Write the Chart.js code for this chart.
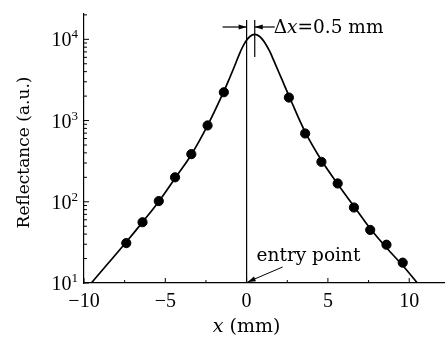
<!DOCTYPE html>
<html>
<head>
<meta charset="utf-8">
<script src="https://cdn.jsdelivr.net/npm/chart.js@4/dist/chart.umd.min.js"></script>
<style>
  html, body { margin: 0; padding: 0; background: #fff; }
  canvas { display: block; }
</style>
</head>
<body>
<canvas id="chart" width="445" height="339"></canvas>
<script>
// measured points (filled circles)
var pointX = [-7.4, -6.4, -5.4, -4.4, -3.4, -2.4, -1.4, 2.6, 3.6, 4.6, 5.6, 6.6, 7.6, 8.6, 9.6];
var pointY = [31, 56, 102, 200, 386, 870, 2230, 1920, 693, 310, 168, 85, 45, 29.6, 17.8];

// fitted curve
var curveX = [-9.55, -8.5, -7.4, -6.4, -5.4, -4.4, -3.4, -2.4, -1.4, -1.0, -0.7, -0.4, -0.1, 0.2, 0.5,
              0.8, 1.1, 1.4, 1.7, 2.0, 2.3, 2.6, 3.6, 4.6, 5.6, 6.6, 7.6, 8.6, 9.6, 10.5];
var curveY = [10, 17.6, 32, 56.2, 101, 195, 380, 871, 2290, 3510, 4900, 6920, 9120, 10840, 11480,
              10840, 9230, 7240, 5310, 3850, 2790, 2020, 724, 324, 166, 88, 46.8, 27.2, 16.4, 10];

// axes
var xMin = -10, xMax = 12.2;
var yMin = 10, yMax = 20500;
var xMajor = [-10, -5, 0, 5, 10];
var xLabels = ['\u221210', '\u22125', '0', '5', '10'];
var xMinor = [-7.5, -2.5, 2.5, 7.5];
var yMajor = [10, 100, 1000, 10000];
var yExp = ['1', '2', '3', '4'];

// annotations
var entryX = 0;
var peakX = 0.5;

var serif = "'DejaVu Serif', serif";
var numFont = "'Liberation Serif', serif";

function line(c, x1, y1, x2, y2) {
  c.beginPath();
  c.moveTo(x1, y1);
  c.lineTo(x2, y2);
  c.stroke();
}

function arrowHead(c, tx, ty, fx, fy, len, half) {
  var a = Math.atan2(ty - fy, tx - fx);
  c.beginPath();
  c.moveTo(tx, ty);
  c.lineTo(tx - len * Math.cos(a) + half * Math.sin(a), ty - len * Math.sin(a) - half * Math.cos(a));
  c.lineTo(tx - len * Math.cos(a) - half * Math.sin(a), ty - len * Math.sin(a) + half * Math.cos(a));
  c.closePath();
  c.fill();
}

var decor = {
  id: 'decor',
  afterDraw: function(chart) {
    var c = chart.ctx, xs = chart.scales.x, ys = chart.scales.y, area = chart.chartArea;
    c.save();
    c.strokeStyle = '#000';
    c.fillStyle = '#000';
    c.lineWidth = 1;

    // inward ticks
    xMajor.forEach(function(v) {
      var p = xs.getPixelForValue(v);
      line(c, p, area.bottom, p, area.bottom - 5);
    });
    xMinor.forEach(function(v) {
      var p = xs.getPixelForValue(v);
      line(c, p, area.bottom, p, area.bottom - 3);
    });
    yMajor.forEach(function(v) {
      var p = ys.getPixelForValue(v);
      line(c, area.left, p, area.left + 5, p);
      for (var m = 2; m <= 9; m++) {
        if (v * m > yMax) break;
        var q = ys.getPixelForValue(v * m);
        line(c, area.left, q, area.left + 3, q);
      }
    });

    // tick labels
    c.textBaseline = 'alphabetic';
    c.textAlign = 'center';
    c.font = '20px ' + numFont;
    xMajor.forEach(function(v, i) {
      c.fillText(xLabels[i], xs.getPixelForValue(v), area.bottom + 24);
    });
    yMajor.forEach(function(v, i) {
      var p = ys.getPixelForValue(v);
      c.font = '13px ' + numFont;
      c.textAlign = 'right';
      var ew = c.measureText(yExp[i]).width;
      c.fillText(yExp[i], area.left - 6, p - 1);
      c.font = '20px ' + numFont;
      c.fillText('10', area.left - 6 - ew, p + 7);
    });

    // y title
    c.save();
    c.translate(25, (area.top + area.bottom) / 2 + 4);
    c.rotate(-Math.PI / 2);
    c.textAlign = 'center';
    c.textBaseline = 'middle';
    c.font = '17px ' + serif;
    c.fillText('Reflectance (a.u.)', 0, 0);
    c.restore();

    // x title: italic x + (mm)
    c.textAlign = 'left';
    c.font = 'italic 19px ' + serif;
    var w1 = c.measureText('x').width;
    c.font = '19px ' + serif;
    var w2 = c.measureText(' (mm)').width;
    var sx = xs.getPixelForValue(0) - (w1 + w2) / 2;
    c.font = 'italic 19px ' + serif;
    c.fillText('x', sx, 332);
    c.font = '19px ' + serif;
    c.fillText(' (mm)', sx + w1, 332);

    // vertical lines at entry point and peak
    var x0 = xs.getPixelForValue(entryX);
    var xp = xs.getPixelForValue(peakX);
    c.lineWidth = 1.2;
    line(c, x0, area.top + 6, x0, area.bottom);
    line(c, xp, area.top + 6, xp, 57);

    // delta-x arrows
    var ay = 27;
    line(c, x0 - 24, ay, x0, ay);
    arrowHead(c, x0, ay, x0 - 24, ay, 8, 2.5);
    line(c, xp + 20, ay, xp, ay);
    arrowHead(c, xp, ay, xp + 20, ay, 8, 2.5);

    var tx = xp + 19;
    c.font = '18.5px ' + serif;
    c.fillText('\u0394', tx, 33);
    tx += c.measureText('\u0394').width;
    c.font = 'italic 18.5px ' + serif;
    c.fillText('x', tx, 33);
    tx += c.measureText('x').width;
    c.font = '18.5px ' + serif;
    c.fillText('=0.5 mm', tx, 33);

    // entry point label
    c.font = '18.5px ' + serif;
    c.fillText('entry point', x0 + 10, 261);
    c.lineWidth = 1;
    line(c, x0 + 36, 267, x0 + 1, area.bottom - 1);
    arrowHead(c, x0 + 1, area.bottom - 1, x0 + 36, 267, 8, 2.5);

    c.restore();
  }
};

var curveData = curveX.map(function(x, i) { return {x: x, y: curveY[i]}; });
var pointData = pointX.map(function(x, i) { return {x: x, y: pointY[i]}; });

var ctx = document.getElementById('chart').getContext('2d');
var myChart = new Chart(ctx, {
  type: 'scatter',
  data: {
    datasets: [{
      data: pointData,
      backgroundColor: '#000',
      borderColor: '#000',
      pointRadius: 4.6,
      pointHoverRadius: 4.6,
      showLine: false
    }, {
      data: curveData,
      borderColor: '#000',
      borderWidth: 1.7,
      pointRadius: 0,
      showLine: true,
      tension: 0.4
    }]
  },
  options: {
    responsive: false,
    animation: false,
    layout: { autoPadding: false, padding: { top: 14, right: 0, left: 0, bottom: 0 } },
    plugins: { legend: { display: false }, tooltip: { enabled: false } },
    scales: {
      x: {
        type: 'linear',
        min: xMin,
        max: xMax,
        ticks: { display: false },
        grid: { display: false, drawTicks: false },
        border: { display: true, color: '#000', width: 1.2 },
        afterFit: function(s) { s.height = 56; }
      },
      y: {
        type: 'logarithmic',
        min: yMin,
        max: yMax,
        ticks: { display: false },
        grid: { display: false, drawTicks: false },
        border: { display: true, color: '#000', width: 1.2 },
        afterFit: function(s) { s.width = 84; }
      }
    }
  },
  plugins: [decor]
});
</script>
</body>
</html>
